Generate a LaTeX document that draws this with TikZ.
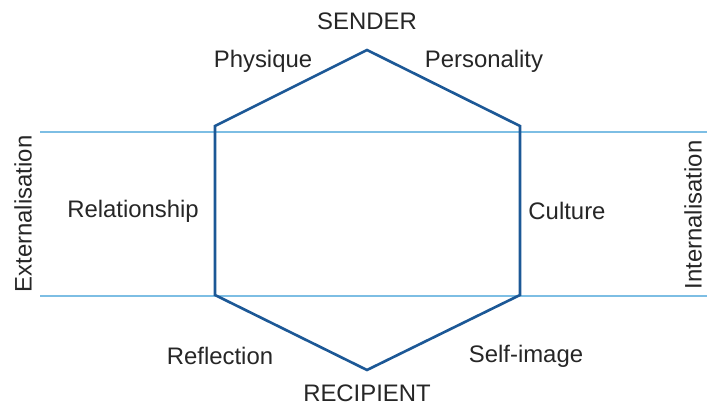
\documentclass[tikz,border=0pt]{standalone}
\usepackage{fontspec}
\setmainfont{Liberation Sans}
\usepackage{xcolor}

\definecolor{hexblue}{RGB}{28,88,150}
\definecolor{bandblue}{RGB}{125,190,228}

\tikzset{
  hexline/.style={color=hexblue, line width=1.5pt, line join=miter},
  bandline/.style={color=bandblue, line width=1pt},
  lbl/.style={inner sep=0pt, text=black!85, font=\fontsize{13.6}{16}\selectfont},
}

\begin{document}
\begin{tikzpicture}[x=0.02cm, y=-0.02cm]
\useasboundingbox (0,0) rectangle (707,406);
% hexagon corners
\coordinate (top) at (367,50);
\coordinate (ul) at (215,126);
\coordinate (ur) at (520,126);
\coordinate (ll) at (215,295);
\coordinate (lr) at (520,295);
\coordinate (bot) at (367,370);
% band ends
\coordinate (bandAw) at (40,132);
\coordinate (bandAe) at (707,132);
\coordinate (bandBw) at (40,296);
\coordinate (bandBe) at (707,296);
\draw[bandline] (bandAw) -> (bandAe);
\draw[bandline] (bandBw) -> (bandBe);
\draw[hexline] (top) -- (ur) -- (lr) -- (bot) -- (ll) -- (ul) -- cycle;
% labels
\node[lbl] (sender) at (367,21) {SENDER};
\node[lbl] (recipient) at (367,393) {RECIPIENT};
\node[lbl] (physique) at (263,61) {Physique};
\node[lbl] (personality) at (484,61) {Personality};
\node[lbl] (relationship) at (133,211) {Relationship};
\node[lbl] (culture) at (567,211) {Culture};
\node[lbl] (reflection) at (220,356) {Reflection};
\node[lbl] (selfimage) at (526,356) {Self-image};
\node[lbl, rotate=90] (extern) at (23,214) {Externalisation};
\node[lbl, rotate=90] (intern) at (693,215) {Internalisation};
\end{tikzpicture}
\end{document}
